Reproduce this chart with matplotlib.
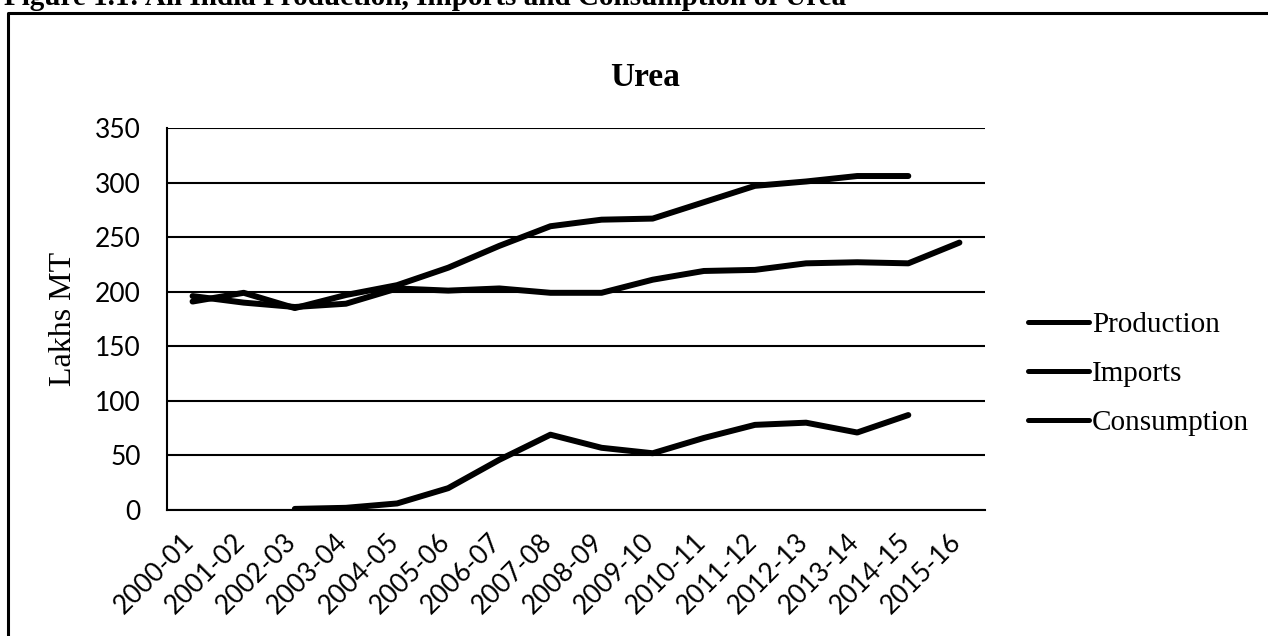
import numpy as np
import matplotlib.pyplot as plt
from matplotlib.lines import Line2D
from matplotlib.transforms import ScaledTranslation

# Data (lakh MT)
years = ['2000-01', '2001-02', '2002-03', '2003-04', '2004-05', '2005-06',
         '2006-07', '2007-08', '2008-09', '2009-10', '2010-11', '2011-12',
         '2012-13', '2013-14', '2014-15', '2015-16']

production = [196, 190, 186, 189, 203, 201, 203, 199, 199, 211, 219, 220,
              226, 227, 226, 245]
imports = [np.nan, np.nan, 1, 2, 6, 20, 46, 69, 57, 52, 66, 78,
           80, 71, 87, np.nan]
consumption = [191, 199, 185, 197, 206, 222, 242, 260, 266, 267, 282, 297,
               301, 306, 306, np.nan]

W, H = 1268, 636
fig = plt.figure(figsize=(W / 100, H / 100), dpi=100)

serif = 'Liberation Serif'
sans = 'Lato'

# plot area in pixels: left 167, right 985, top 128, bottom 510
ax = fig.add_axes([167 / W, 1 - 510 / H, (985 - 167) / W, (510 - 128) / H])

x = np.arange(len(years))
line_kw = dict(color='black', linewidth=4.3, solid_capstyle='round',
               solid_joinstyle='round')
ax.plot(x, production, label='Production', **line_kw)
ax.plot(x, imports, label='Imports', **line_kw)
ax.plot(x, consumption, label='Consumption', **line_kw)

ax.set_xlim(-0.5, len(years) - 0.5)
ax.set_ylim(0, 350)
ax.set_yticks(range(0, 351, 50))
ax.set_xticks(x)
ax.set_xticklabels([])

# rotated category labels, drawn as text so they can be nudged left
trans = ax.get_xaxis_transform() + ScaledTranslation(-0.11, -0.19,
                                                     fig.dpi_scale_trans)
for xi, yr in zip(x, years):
    ax.text(xi, 0, yr, transform=trans, rotation=45, ha='right', va='top',
            rotation_mode='anchor', fontfamily=sans, fontsize=19)

for lbl in ax.get_yticklabels():
    lbl.set_fontfamily(sans)
    lbl.set_fontsize(19)

ax.tick_params(axis='y', length=0, pad=19)
ax.tick_params(axis='x', length=0)

ax.grid(axis='y', color='black', linewidth=1.5)
ax.set_axisbelow(True)
for side in ['top', 'right']:
    ax.spines[side].set_visible(False)
ax.spines['left'].set_linewidth(1.5)
ax.spines['bottom'].set_linewidth(1.5)

ax.set_ylabel('Lakhs MT', fontfamily=serif, fontsize=23, labelpad=12)

fig.text(645 / W, 1 - 77 / H, 'Urea', fontfamily=serif, fontsize=24,
         fontweight='bold', ha='center', va='center')

# caption of the page, cut off at the top edge
fig.text(4 / W, 1 - 5 / H,
         'Figure 1.1: All India Production, Imports and Consumption of Urea',
         fontfamily=serif, fontsize=21, fontweight='bold', ha='left',
         va='baseline')

leg = ax.legend(loc='center left', bbox_to_anchor=(1028 / W, 1 - 374 / H),
                bbox_transform=fig.transFigure, frameon=False,
                prop={'family': serif, 'size': 21}, handlelength=2.1,
                handletextpad=0.1, labelspacing=0.77, borderpad=0,
                borderaxespad=0)
for h in leg.get_lines():
    h.set_linewidth(3.6)

# chart frame (left and top edges visible)
fig.add_artist(Line2D([8 / W, 8 / W, 1.0], [0.0, 1 - 13 / H, 1 - 13 / H],
                      transform=fig.transFigure, color='black',
                      linewidth=2.2))

fig.savefig('out.png', dpi=100)
